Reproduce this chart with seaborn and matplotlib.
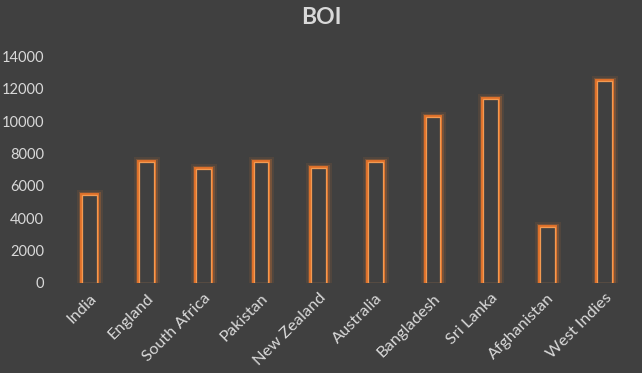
import matplotlib
matplotlib.use("Agg")
import matplotlib.pyplot as plt
import matplotlib.patheffects as pe
import seaborn as sns
import pandas as pd

# BOI values per team
teams = ["India", "England", "South Africa", "Pakistan", "New Zealand",
         "Australia", "Bangladesh", "Sri Lanka", "Afghanistan", "West Indies"]
boi = [5450, 7450, 7020, 7450, 7080, 7450, 10240, 11350, 3480, 12470]
yticks = [0, 2000, 4000, 6000, 8000, 10000, 12000, 14000]

df = pd.DataFrame({"Team": teams, "BOI": boi})

bg = "#404040"
txt = "#d9d9d9"
orange = "#ED7D31"

sns.set_style("dark")
plt.rcParams["font.family"] = ["Lato", "DejaVu Sans"]

fig = plt.figure(figsize=(6.42, 3.73), dpi=100, facecolor=bg)
ax = fig.add_axes([0.0944, 0.2421, 0.8922, 0.6059])
ax.set_facecolor(bg)

sns.barplot(data=df, x="Team", y="BOI", ax=ax, width=0.257,
            facecolor=bg, edgecolor="#F39A52", linewidth=0.9)

# soft orange glow round each bar
for p in ax.patches:
    p.set_path_effects([
        pe.Stroke(linewidth=8, foreground=orange, alpha=0.10),
        pe.Stroke(linewidth=5, foreground=orange, alpha=0.25),
        pe.Stroke(linewidth=2.8, foreground="#E8742A", alpha=0.95),
        pe.Normal(),
    ])

ax.set_ylim(0, 14000)
ax.set_yticks(yticks)
ax.set_yticklabels([str(v) for v in yticks])
ax.set_xlabel("")
ax.set_ylabel("")
ax.grid(False)
for s in ax.spines.values():
    s.set_visible(False)
ax.tick_params(axis="both", length=0, colors=txt, labelsize=10.5)
ax.tick_params(axis="y", pad=12)
ax.tick_params(axis="x", labelsize=11.8, pad=6)
plt.setp(ax.get_xticklabels(), rotation=45, ha="right", rotation_mode="anchor")

fig.suptitle("BOI", x=0.5, y=0.98, fontsize=16.5, fontweight="bold", color=txt)

fig.savefig("out.png", dpi=100, facecolor=bg)
